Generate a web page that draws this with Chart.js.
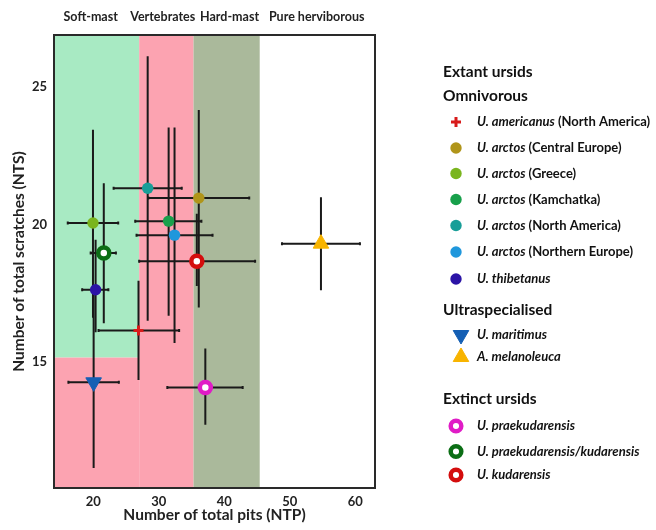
<!DOCTYPE html>
<html>
<head>
<meta charset="utf-8">
<script src="https://cdn.jsdelivr.net/npm/chart.js@4.4.1/dist/chart.umd.min.js"></script>
<style>
  body { margin: 0; background: #fff; }
  #wrap { width: 656px; height: 530px; }
</style>
</head>
<body>
<div id="wrap"><canvas id="myChart" width="656" height="530"></canvas></div>
<script>
// series (one point each, with error bar ends)
const seriesNames = ['U. americanus (North America)', 'U. arctos (Central Europe)', 'U. arctos (Greece)',
  'U. arctos (Kamchatka)', 'U. arctos (North America)', 'U. arctos (Northern Europe)', 'U. thibetanus',
  'U. maritimus', 'A. melanoleuca',
  'U. praekudarensis', 'U. praekudarensis/kudarensis', 'U. kudarensis'];
const ntp     = [26.9, 36.1, 19.95, 31.5, 28.3, 32.4, 20.35, 20.05, 54.75, 37.1, 21.6, 35.8];
const nts     = [16.14, 20.96, 20.05, 20.12, 21.32, 19.61, 17.62, 14.25, 19.3, 14.06, 18.96, 18.66];
const ntpLow  = [20.8, 28.4, 16.1, 26.4, 23.1, 26.6, 18.3, 16.2, 48.8, 31.3, 19.6, 27.0];
const ntpHigh = [33.1, 43.8, 23.8, 36.5, 33.5, 38.2, 22.3, 23.9, 60.7, 42.8, 23.45, 44.7];
const ntsLow  = [14.33, 16.97, 16.6, 16.67, 16.49, 15.68, 16.07, 11.13, 17.6, 12.7, 16.4, 17.76];
const ntsHigh = [17.95, 24.17, 23.45, 23.53, 26.13, 23.53, 19.44, 17.6, 20.99, 15.48, 21.5, 20.39];

// diet zones (data units)
const zoneNames = ['Soft-mast', 'Vertebrates', 'Hard-mast', 'Pure herviborous'];
const zoneLabelX = [19.6, 30.6, 40.8, 54.1];
const boxX0 = [14, 14, 27, 35.3];
const boxX1 = [27, 27, 35.3, 45.4];
const boxY0 = [15.15, 10.4, 10.4, 10.4];
const boxY1 = [26.9, 15.15, 26.9, 26.9];
const boxColors = ['#a8eac3', '#fca3b1', '#fca3b1', '#aab99b'];

const xTicks = [20, 30, 40, 50, 60];
const yTicks = [15, 20, 25];

// marker styles
const colors = ['#d81b1b', '#b0951a', '#7ab51e', '#18a04b', '#189e98', '#1f97dc', '#2b14a6',
  '#145fb4', '#f8b400', '#e01cc6', '#0b6e15', '#d40d0d'];
const shapes = ['cross', 'circle', 'circle', 'circle', 'circle', 'circle', 'circle',
  'triangle', 'triangle', 'circle', 'circle', 'circle'];
const ring = [false, false, false, false, false, false, false, false, false, true, true, true];
const rotations = [0, 0, 0, 0, 0, 0, 0, 180, 0, 0, 0, 0];

function markerOpts(i) {
  if (shapes[i] == 'cross') return {pointStyle: 'cross', radius: 5, borderWidth: 3, rotation: 0, bg: colors[i]};
  if (shapes[i] == 'triangle') return {pointStyle: 'triangle', radius: 9, borderWidth: 1, rotation: rotations[i], bg: colors[i]};
  if (ring[i]) return {pointStyle: 'circle', radius: 5.5, borderWidth: 4.5, rotation: 0, bg: '#ffffff'};
  return {pointStyle: 'circle', radius: 5.7, borderWidth: 0, rotation: 0, bg: colors[i]};
}

const datasets = seriesNames.map((name, i) => {
  const m = markerOpts(i);
  return {
    label: name,
    data: [{x: ntp[i], y: nts[i]}],
    pointStyle: m.pointStyle,
    pointRadius: m.radius,
    pointBorderWidth: m.borderWidth,
    pointRotation: m.rotation,
    pointBackgroundColor: m.bg,
    pointBorderColor: colors[i],
    pointHoverRadius: m.radius
  };
});

const FONT = 'Lato, "DejaVu Sans", sans-serif';

const zonePlugin = {
  id: 'zones',
  beforeDatasetsDraw(chart) {
    const ctx = chart.ctx;
    const xs = chart.scales.x, ys = chart.scales.y;
    ctx.save();
    for (let k = 0; k < boxX0.length; k++) {
      const l = xs.getPixelForValue(boxX0[k]), r = xs.getPixelForValue(boxX1[k]);
      const t = ys.getPixelForValue(boxY1[k]), b = ys.getPixelForValue(boxY0[k]);
      ctx.fillStyle = boxColors[k];
      ctx.fillRect(l, t, r - l, b - t);
    }
    // error bars
    ctx.strokeStyle = '#1a1a1a';
    ctx.lineWidth = 2;
    for (let i = 0; i < ntp.length; i++) {
      const px = xs.getPixelForValue(ntp[i]), py = ys.getPixelForValue(nts[i]);
      const x0 = xs.getPixelForValue(ntpLow[i]), x1 = xs.getPixelForValue(ntpHigh[i]);
      const y0 = ys.getPixelForValue(ntsLow[i]), y1 = ys.getPixelForValue(ntsHigh[i]);
      ctx.beginPath();
      ctx.moveTo(x0, py); ctx.lineTo(x1, py);
      ctx.moveTo(px, y0); ctx.lineTo(px, y1);
      ctx.stroke();
      ctx.beginPath();
      ctx.moveTo(x0, py - 1.5); ctx.lineTo(x0, py + 1.5);
      ctx.moveTo(x1, py - 1.5); ctx.lineTo(x1, py + 1.5);
      ctx.stroke();
    }
    ctx.restore();
  },
  afterDraw(chart) {
    const ctx = chart.ctx;
    const a = chart.chartArea;
    const xs = chart.scales.x;
    ctx.save();
    // frame
    ctx.strokeStyle = '#2a2a2a';
    ctx.lineWidth = 2;
    ctx.strokeRect(a.left, a.top, a.right - a.left, a.bottom - a.top);

    // zone labels above the plot
    ctx.fillStyle = '#222';
    ctx.font = 'bold 12.5px ' + FONT;
    ctx.textAlign = 'center';
    ctx.textBaseline = 'middle';
    zoneNames.forEach((z, k) => ctx.fillText(z, xs.getPixelForValue(zoneLabelX[k]), 17));

    // legend
    const rows = [
      {head: 'Extant ursids', y: 72},
      {head: 'Omnivorous', y: 96},
      {idx: 0, y: 122}, {idx: 1, y: 148}, {idx: 2, y: 173.5}, {idx: 3, y: 199.5},
      {idx: 4, y: 225.5}, {idx: 5, y: 252}, {idx: 6, y: 279},
      {head: 'Ultraspecialised', y: 310},
      {idx: 7, y: 335}, {idx: 8, y: 357},
      {head: 'Extinct ursids', y: 399},
      {idx: 9, y: 426}, {idx: 10, y: 451.5}, {idx: 11, y: 475}
    ];
    ctx.textAlign = 'left';
    rows.forEach(row => {
      ctx.fillStyle = '#111';
      if (row.head) {
        ctx.font = 'bold 15.5px ' + FONT;
        ctx.fillText(row.head, 443, row.y);
        return;
      }
      const i = row.idx;
      const m = markerOpts(i);
      const mx = shapes[i] == 'triangle' ? 461 : 456;
      ctx.save();
      ctx.fillStyle = m.bg;
      ctx.strokeStyle = colors[i];
      ctx.lineWidth = m.borderWidth;
      Chart.helpers.drawPoint(ctx, {pointStyle: m.pointStyle, radius: ring[i] ? 5.3 : m.radius,
        borderWidth: m.borderWidth, rotation: m.rotation}, mx, row.y);
      ctx.restore();
      const name = seriesNames[i];
      const cut = name.indexOf(' (');
      const ital = cut < 0 ? name : name.slice(0, cut);
      const rest = cut < 0 ? '' : name.slice(cut);
      ctx.fillStyle = '#111';
      ctx.font = 'italic bold 13px ' + FONT;
      ctx.fillText(ital, 477, row.y);
      const w = ctx.measureText(ital).width;
      ctx.font = 'bold 13px ' + FONT;
      ctx.fillText(rest, 477 + w, row.y);
    });
    ctx.restore();
  }
};

const ctx = document.getElementById('myChart').getContext('2d');
const myChart = new Chart(ctx, {
  type: 'scatter',
  data: { datasets: datasets },
  options: {
    responsive: false,
    animation: false,
    layout: { padding: { top: 35, right: 281, bottom: 0, left: 0 } },
    plugins: { legend: { display: false }, tooltip: { enabled: false } },
    scales: {
      x: {
        min: 14, max: 63,
        grid: { display: false, drawTicks: false },
        border: { display: false },
        afterBuildTicks: s => { s.ticks = xTicks.map(v => ({value: v})); },
        afterFit: s => { s.height = 42; },
        ticks: { color: '#222', padding: 6, font: { family: FONT, size: 13, weight: 'bold' } },
        title: { display: true, text: 'Number of total pits (NTP)', color: '#222',
          padding: { top: 0, bottom: 6 }, font: { family: FONT, size: 15.5, weight: 'bold' } }
      },
      y: {
        min: 10.4, max: 26.9,
        grid: { display: false, drawTicks: false },
        border: { display: false },
        afterBuildTicks: s => { s.ticks = yTicks.map(v => ({value: v})); },
        afterFit: s => { s.width = 54; },
        ticks: { color: '#222', padding: 7, font: { family: FONT, size: 13, weight: 'bold' } },
        title: { display: true, text: 'Number of total scratches (NTS)', color: '#222',
          padding: { top: 10, bottom: 0 }, font: { family: FONT, size: 15.5, weight: 'bold' } }
      }
    }
  },
  plugins: [zonePlugin]
});
</script>
</body>
</html>
